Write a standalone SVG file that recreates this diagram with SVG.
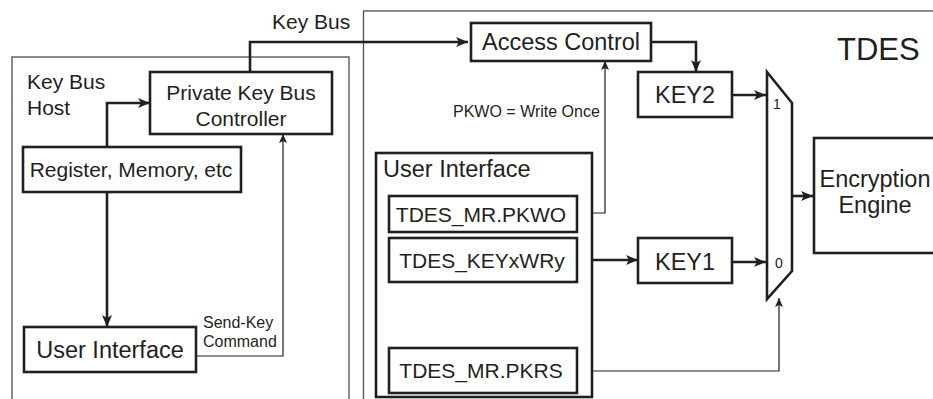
<svg xmlns="http://www.w3.org/2000/svg" width="933" height="399" viewBox="0 0 933 399">
<defs>
<marker id="ah" markerUnits="userSpaceOnUse" markerWidth="12" markerHeight="10" refX="12" refY="5" orient="auto">
<path d="M0,0 L12,5 L0,10 L3,5 Z" fill="#231f20"/>
</marker>
<marker id="as" markerUnits="userSpaceOnUse" markerWidth="9" markerHeight="8" refX="9" refY="4" orient="auto">
<path d="M0,0 L9,4 L0,8 L2,4 Z" fill="#231f20"/>
</marker>
</defs>
<style>
.outer{fill:none;stroke:#4d4d4d;stroke-width:1.3}
.box{fill:#fff;stroke:#231f20;stroke-width:2.6}
.thick{fill:none;stroke:#231f20;stroke-width:2.6}
.thin{fill:none;stroke:#231f20;stroke-width:1.2}
text{font-family:"Liberation Sans",Arial,sans-serif;fill:#231f20}
.t21{font-size:21px}
.t23{font-size:23.5px}
.t16{font-size:16px}
.t13{font-size:14px}
.mid{text-anchor:middle}
</style>
<rect width="933" height="399" fill="#fff"/>

<g id="key-bus-host">
<rect class="outer" x="12" y="57" width="337" height="360"/>
<text class="t21" x="27" y="89">Key Bus</text>
<text class="t21" x="27" y="115">Host</text>
</g>

<g id="tdes">
<rect class="outer" x="363.5" y="11" width="600" height="420"/>
<text x="837" y="60" style="font-size:31px">TDES</text>
</g>

<g id="connectors">
<path class="thick" d="M250,72 V42 H468" marker-end="url(#ah)"/>
<path class="thick" d="M107,147 V103 H150" marker-end="url(#ah)"/>
<path class="thick" d="M107,192 V327" marker-end="url(#ah)"/>
<path class="thin" d="M196,356 H283 V134" marker-end="url(#as)"/>
<path class="thick" d="M651,42 H696 V72" marker-end="url(#ah)"/>
<path class="thin" d="M577,213 H605 V61" marker-end="url(#as)"/>
<path class="thick" d="M577,260 H638" marker-end="url(#ah)"/>
<path class="thick" d="M732,95 H766" marker-end="url(#ah)"/>
<path class="thick" d="M732,262 H766" marker-end="url(#ah)"/>
<path class="thin" d="M577,371 H779 V298" marker-end="url(#as)"/>
<path class="thick" d="M792,196 H813" marker-end="url(#ah)"/>
</g>
<text class="t16" x="272" y="29" style="font-size:21px">Key Bus</text>
<text class="t16" x="203" y="328">Send-Key</text>
<text class="t16" x="203" y="347">Command</text>
<text class="t16" x="453" y="117">PKWO = Write Once</text>

<g id="pkbc">
<rect class="box" x="150" y="72" width="182" height="62"/>
<text class="t21 mid" x="241" y="100">Private Key Bus</text>
<text class="t21 mid" x="241" y="126">Controller</text>
</g>

<g id="register">
<rect class="box" x="23" y="147" width="218" height="45"/>
<text class="t21 mid" x="131" y="177">Register, Memory, etc</text>
</g>

<g id="host-ui">
<rect class="box" x="24" y="327" width="172" height="45"/>
<text class="t23 mid" x="110" y="358">User Interface</text>
</g>

<g id="access-control">
<rect class="box" x="471" y="23" width="180" height="38"/>
<text class="t23 mid" x="561" y="50">Access Control</text>
</g>

<g id="tdes-ui">
<rect class="box" x="376" y="153" width="216" height="244"/>
<text class="t23" x="383" y="177">User Interface</text>
</g>

<g id="pkwo">
<rect class="box" x="389" y="196" width="188" height="36"/>
<text class="t21 mid" x="481" y="222">TDES_MR.PKWO</text>
</g>

<g id="keyxwry">
<rect class="box" x="389" y="238" width="188" height="44"/>
<text class="t21 mid" x="482" y="268">TDES_KEYxWRy</text>
</g>

<g id="pkrs">
<rect class="box" x="389" y="348" width="188" height="45"/>
<text class="t21 mid" x="481" y="378">TDES_MR.PKRS</text>
</g>

<g id="key2">
<rect class="box" x="638" y="72" width="94" height="45"/>
<text class="t23 mid" x="685" y="103">KEY2</text>
</g>

<g id="key1">
<rect class="box" x="638" y="238" width="94" height="45"/>
<text class="t23 mid" x="685" y="270">KEY1</text>
</g>

<g id="mux">
<polygon class="box" points="767,72 792,103 792,271 767,299"/>
<text class="t13" x="773" y="109">1</text>
<text class="t13" x="775" y="268">0</text>
</g>

<g id="encryption-engine">
<rect class="box" x="814" y="138" width="140" height="115"/>
<text class="t23 mid" x="875" y="187">Encryption</text>
<text class="t23 mid" x="875" y="213">Engine</text>
</g>
</svg>
